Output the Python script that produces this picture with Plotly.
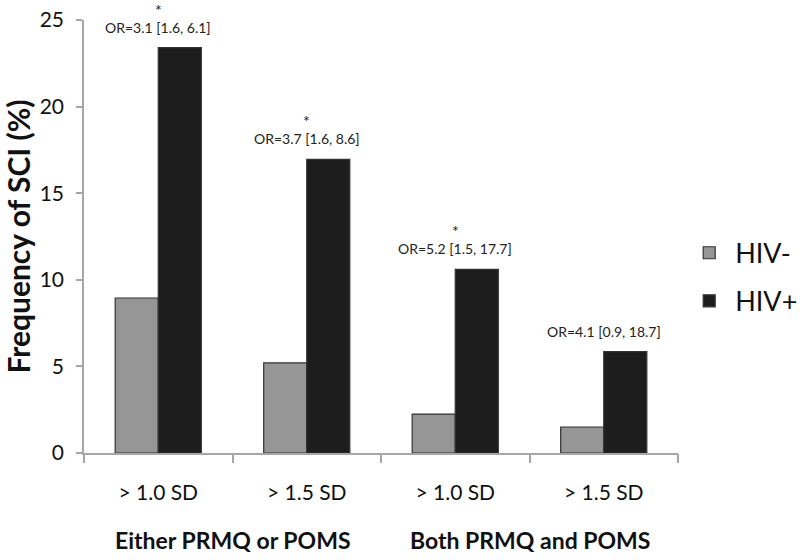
import plotly.graph_objects as go

# data
subgroups = ["> 1.0 SD", "> 1.5 SD", "> 1.0 SD", "> 1.5 SD"]
groups = ["Either PRMQ or POMS", "Both PRMQ and POMS"]
hiv_neg = [8.95, 5.2, 2.25, 1.5]
hiv_pos = [23.4, 16.95, 10.6, 5.85]
or_labels = ["OR=3.1 [1.6, 6.1]", "OR=3.7 [1.6, 8.6]", "OR=5.2 [1.5, 17.7]", "OR=4.1 [0.9, 18.7]"]
significant = [True, True, True, False]

FONT = "Lato"
xpos = list(range(len(subgroups)))

fig = go.Figure()

fig.add_trace(go.Bar(
    x=xpos, y=hiv_neg, name="HIV-", legendgroup="neg",
    marker=dict(color="#969696", line=dict(color="#333333", width=1.2))
))
fig.add_trace(go.Bar(
    x=xpos, y=hiv_pos, name="HIV+", legendgroup="pos",
    marker=dict(color="#1d1d1d", line=dict(color="#333333", width=1.2))
))

# odds ratio labels and asterisks above the HIV+ bars
for i, (val, lab, sig) in enumerate(zip(hiv_pos, or_labels, significant)):
    fig.add_annotation(x=i, y=val, text=lab, showarrow=False,
                       yanchor="bottom", yshift=10,
                       font=dict(family=FONT, size=14, color="#222"))
    if sig:
        fig.add_annotation(x=i, y=val, text="*", showarrow=False,
                           yanchor="bottom", yshift=27,
                           font=dict(family=FONT, size=16, color="#222"))

# group labels under pairs of categories
per_group = len(subgroups) // len(groups)
for g, name in enumerate(groups):
    center = g * per_group + (per_group - 1) / 2
    fig.add_annotation(x=center, y=0, xref="x", yref="paper", text="<b>" + name + "</b>",
                       showarrow=False, yanchor="top", yshift=-71,
                       font=dict(family=FONT, size=23, color="#111"))

# invisible overlay axis just for ticks on category boundaries
bounds = [i - 0.5 for i in range(len(subgroups) + 1)]
fig.add_trace(go.Scatter(x=[bounds[0], bounds[-1]], y=[0, 0], xaxis="x2",
                         mode="lines", line=dict(width=0), showlegend=False,
                         hoverinfo="skip"))

fig.update_layout(
    width=800, height=560,
    margin=dict(l=84, r=122, t=20, b=107, autoexpand=False),
    plot_bgcolor="white", paper_bgcolor="white",
    barmode="group", bargap=0.42, bargroupgap=0,
    font=dict(family=FONT, color="#111"),
    legend=dict(xref="container", yref="container", x=0.854, y=0.505,
                xanchor="left", yanchor="middle",
                font=dict(family=FONT, size=27, color="#111"),
                tracegroupgap=10, itemwidth=42),
    xaxis=dict(range=[-0.5, len(subgroups) - 0.5], tickvals=xpos, ticktext=subgroups,
               ticks="", ticklabelstandoff=20,
               showline=True, linecolor="#a6a6a6", linewidth=1.5,
               showgrid=False, zeroline=False,
               tickfont=dict(family=FONT, size=21, color="#111")),
    xaxis2=dict(overlaying="x", matches="x", anchor="y", side="bottom",
                tickvals=bounds, showticklabels=False, ticks="outside",
                ticklen=9, tickcolor="#a6a6a6", tickwidth=1.5,
                showgrid=False, zeroline=False, showline=False),
    yaxis=dict(range=[0, 25], dtick=5, ticks="outside", ticklen=6,
               tickcolor="#a6a6a6", tickwidth=1.5, ticklabelstandoff=8,
               ticklabeloverflow="allow",
               showline=True, linecolor="#a6a6a6", linewidth=1.5,
               showgrid=False, zeroline=False,
               tickfont=dict(family=FONT, size=21, color="#111")),
)
fig.update_yaxes(title=dict(text="<b>Frequency of SCI (%)</b>", standoff=6,
                            font=dict(family=FONT, size=30, color="#111")))

# drop the default body margin so the 800x560 figure fills the window
fig.write_html("out.html", config={"displayModeBar": False},
               post_script="document.body.style.margin = '0';")
